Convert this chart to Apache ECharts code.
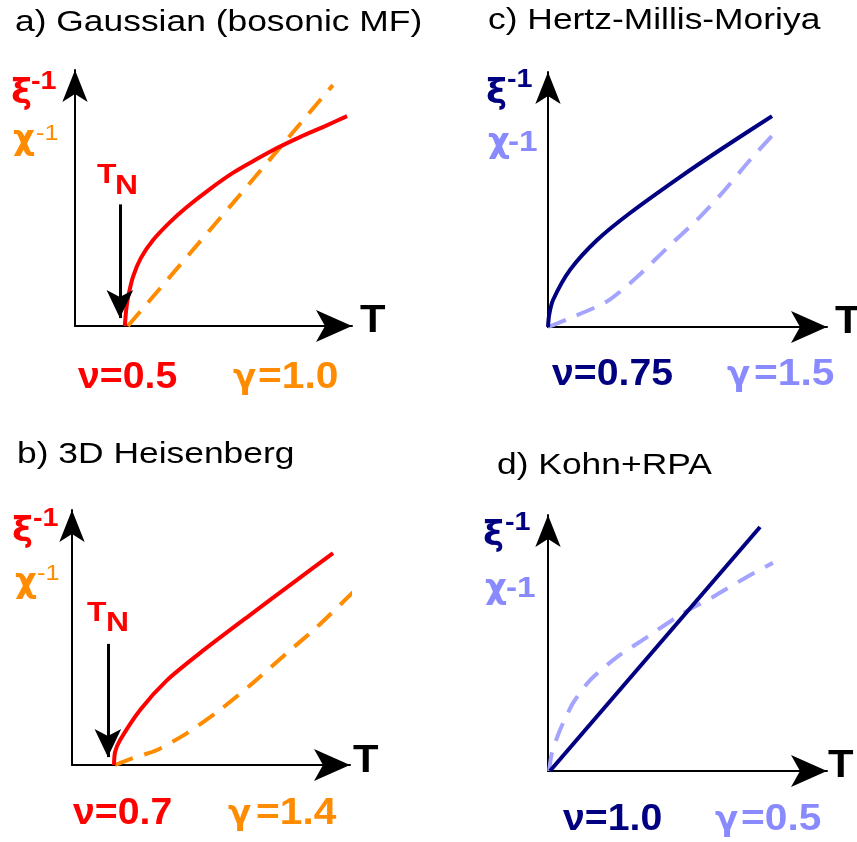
<!DOCTYPE html>
<html><head><meta charset="utf-8">
<script src="https://cdn.jsdelivr.net/npm/echarts@6/dist/echarts.min.js"></script>
<style>html,body{margin:0;padding:0;background:#fff}#c{width:857px;height:842px}</style>
</head><body><div id="c"></div>
<script>
// ---- data (T in arbitrary units, inverse quantities in arbitrary units) ----
// a) Gaussian (bosonic MF)
const aXiT  = [1.80,1.84,1.91,2.09,2.38,2.82,3.43,4.04,4.87,5.70,6.50,7.29,8.12,9.03,9.82];
const aXiV  = [0,0.55,1.09,1.91,2.66,3.36,4.06,4.65,5.35,5.98,6.48,6.95,7.38,7.81,8.20];
const aChiT = [1.91,5.70,9.31];
const aChiV = [0,4.80,9.41];
const aTN   = 1.62;
// b) 3D Heisenberg
const bXiT  = [1.51,1.55,1.73,2.45,3.42,4.60,6.40,7.95,9.39];
const bXiV  = [0,0.51,0.98,2.16,3.33,4.39,5.88,7.14,8.31];
const bChiT = [1.55,2.19,3.06,4.14,5.32,6.51,7.73,8.81,10.11];
const bChiV = [0,0.27,0.59,1.25,2.16,3.22,4.39,5.41,6.78];
const bTN   = 1.29;
// c) Hertz-Millis-Moriya
const cXiT  = [0,0.04,0.18,0.79,1.76,2.94,4.73,6.27,8.03];
const cXiV  = [0,0.47,1.06,2.24,3.41,4.47,5.88,7.02,8.27];
const cChiT = [0,0.68,2.11,3.19,4.27,5.34,6.27,7.24,8.06];
const cChiV = [0,0.30,1.00,1.96,3.10,4.20,5.29,6.55,7.53];
// d) Kohn+RPA
const dXiT  = [0.07,7.60];
const dXiV  = [0,9.53];
const dChiT = [0.04,0.14,0.43,0.90,1.51,2.47,3.55,4.84,5.91,7.13,8.06];
const dChiV = [0,0.70,1.60,2.66,3.55,4.45,5.23,6.17,6.80,7.58,8.13];
// labels
const titles = ['a) Gaussian (bosonic MF)','b) 3D Heisenberg','c) Hertz-Millis-Moriya','d) Kohn+RPA'];
const nuLabels = ['ν=0.5','ν=0.7','ν=0.75','ν=1.0'];
const gammaValues = ['=1.0','=1.4','=1.5','=0.5'];

const RED='#ff0000', ORANGE='#ff8c00', NAVY='#000080', LBLUE='#8a8aff', LBLUE_LINE='#a4a4ff';
const FONT='"Liberation Sans", Arial, sans-serif';
const GFONT='"DejaVu Sans", sans-serif';
const zip=(t,v)=>t.map((x,i)=>[x,v[i]]);

const grids=[
  {left:75, top:70, width:277, height:256},
  {left:72, top:510,width:278, height:255},
  {left:548,top:72, width:279, height:255},
  {left:548,top:515,width:279, height:256}
].map(g=>Object.assign({containLabel:false, outerBoundsMode:'none'},g));

const axBase={type:'value',min:0,max:10,axisTick:{show:false},axisLabel:{show:false},splitLine:{show:false}};
const xAxes=grids.map((g,i)=>Object.assign({gridIndex:i,axisLine:{onZero:false,lineStyle:{color:'#000',width:2},symbol:['none','arrow'],symbolSize:[24,36]}},axBase));
const yAxes=grids.map((g,i)=>Object.assign({gridIndex:i,axisLine:{onZero:false,lineStyle:{color:'#000',width:2},symbol:['none','arrow'],symbolSize:[19,32]}},axBase));

function solid(i,t,v,color,sm){return {type:'line',xAxisIndex:i,yAxisIndex:i,data:zip(t,v),showSymbol:false,smooth:sm,clip:false,lineStyle:{color,width:4},z:3};}
function dashed(i,t,v,color,sm){return {type:'line',xAxisIndex:i,yAxisIndex:i,data:zip(t,v),showSymbol:false,smooth:sm,clip:false,lineStyle:{color,width:4,type:[19,12]},z:2};}
function tnArrow(i,x){return {type:'line',xAxisIndex:i,yAxisIndex:i,data:[],markLine:{silent:true,symbol:['none','arrow'],symbolSize:[20,28],label:{show:false},lineStyle:{color:'#000',width:3,type:'solid'},data:[[{coord:[x,4.75]},{coord:[x,0.31]}]]}};}

const S=0.25;
const series=[
  dashed(0,aChiT,aChiV,ORANGE,false), solid(0,aXiT,aXiV,RED,S), tnArrow(0,aTN),
  dashed(1,bChiT,bChiV,ORANGE,S), solid(1,bXiT,bXiV,RED,S), tnArrow(1,bTN),
  dashed(2,cChiT,cChiV,LBLUE_LINE,S), solid(2,cXiT,cXiV,NAVY,S),
  dashed(3,dChiT,dChiV,LBLUE_LINE,S), solid(3,dXiT,dXiV,NAVY,false)
];

function txt(x,y,text,size,color,weight,sx,fam){
  return {type:'text',x,y,scaleX:sx||1,silent:true,style:{text,x:0,y:0,font:(weight||'normal')+' '+size+'px '+(fam||FONT),fill:color,align:'left',verticalAlign:'middle'}};
}
const SX=1.18, LB=1.1;
// [nuX, gammaX, gammaRestX, y, nuColor, gammaColor]
const expo=[
  [78,233,258,378,RED,ORANGE],
  [73,228,256,814,RED,ORANGE],
  [552,727,754,375,NAVY,LBLUE],
  [563,715,741,820,NAVY,LBLUE]
];
const g=[
  txt(15,23,titles[0],30,'#000','normal',SX),
  txt(17,455,titles[1],30,'#000','normal',SX),
  txt(488,21,titles[2],30,'#000','normal',SX),
  txt(497,466,titles[3],30,'#000','normal',SX),
  // axis T
  txt(360,322,'T',38,'#000','bold',LB),
  txt(353,762,'T',38,'#000','bold',LB),
  txt(835,323,'T',38,'#000','bold',LB),
  txt(828,767,'T',38,'#000','bold',LB),
  // TN
  txt(97,176,'T',27,RED,'bold',SX), txt(115,187,'N',27,RED,'bold',SX),
  txt(87,614,'T',27,RED,'bold',SX), txt(106,624,'N',27,RED,'bold',SX),
  // y labels a
  txt(11,94,'ξ',34,RED,'bold',1.05,GFONT), txt(31,82,'-1',25,RED,'bold',1.15),
  txt(13,140,'χ',34,ORANGE,'bold',1.0,GFONT), txt(36,134,'-1',22,ORANGE,'normal',1.15),
  // b
  txt(12,532,'ξ',34,RED,'bold',1.05,GFONT), txt(33,519,'-1',25,RED,'bold',1.15),
  txt(15,583,'χ',34,ORANGE,'bold',1.0,GFONT), txt(37,574,'-1',22,ORANGE,'normal',1.15),
  // c
  txt(486,94,'ξ',34,NAVY,'bold',1.05,GFONT), txt(507,80,'-1',25,NAVY,'bold',1.15),
  txt(488,143,'χ',34,LBLUE,'bold',1.0,GFONT), txt(508,143,'-1',29,LBLUE,'bold',1.15),
  // d
  txt(483,536,'ξ',34,NAVY,'bold',1.05,GFONT), txt(505,523,'-1',25,NAVY,'bold',1.15),
  txt(485,589,'χ',34,LBLUE,'bold',1.0,GFONT), txt(506,589,'-1',29,LBLUE,'bold',1.15)
];
expo.forEach((e,i)=>{
  g.push(txt(e[0],e[3],nuLabels[i],37,e[4],'bold',1.06));
  g.push(txt(e[1],e[3]+1,'γ',34,e[5],'bold',1.0,GFONT));
  g.push(txt(e[2],e[3],gammaValues[i],37,e[5],'bold',LB));
});

const chart=echarts.init(document.getElementById('c'),null,{renderer:'canvas'});
chart.setOption({animation:false,backgroundColor:'#fff',grid:grids,xAxis:xAxes,yAxis:yAxes,series,graphic:g});
</script></body></html>
